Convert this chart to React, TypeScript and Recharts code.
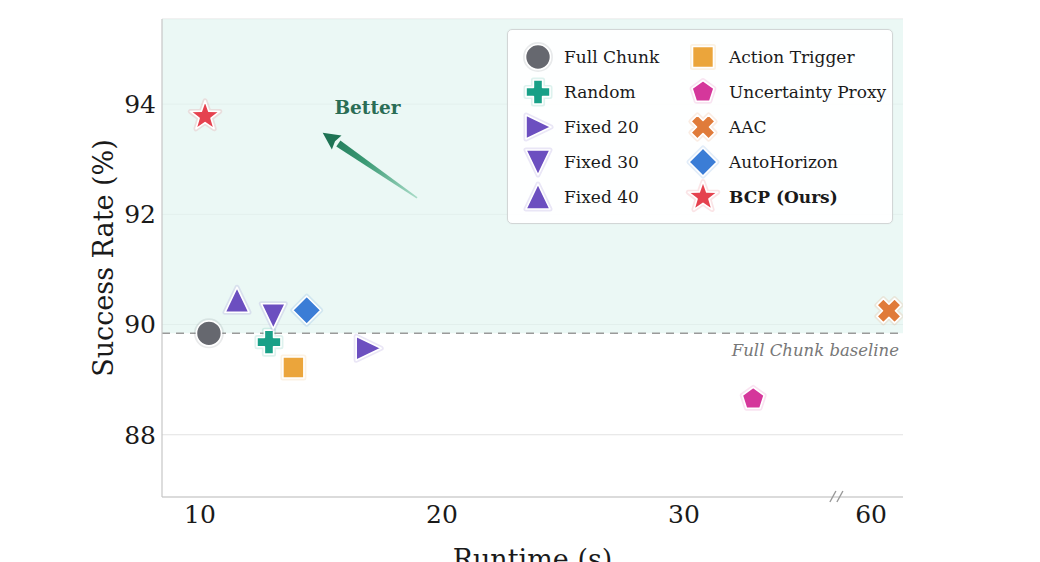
import React from "react";
import {
  ScatterChart,
  Scatter,
  XAxis,
  YAxis,
  CartesianGrid,
  ReferenceArea,
  ReferenceLine,
  ReferenceDot,
} from "recharts";

// one point per method
const methods = [
  "Full Chunk",
  "Random",
  "Fixed 20",
  "Fixed 30",
  "Fixed 40",
  "Action Trigger",
  "Uncertainty Proxy",
  "AAC",
  "AutoHorizon",
  "BCP (Ours)",
];
const runtimes = [10.37, 12.85, 16.95, 13.03, 11.53, 13.86, 32.86, 60.74, 14.41, 10.21];
const successRates = [89.84, 89.68, 89.57, 90.16, 90.44, 89.22, 88.65, 90.25, 90.26, 93.78];
const markerKinds = ["circle", "plus", "triRight", "triDown", "triUp", "square", "pentagon", "x", "diamond", "star"];
const markerColors = [
  "#66686f",
  "#18a087",
  "#6c4fc0",
  "#6c4fc0",
  "#6c4fc0",
  "#eba53b",
  "#d5379b",
  "#e07b3a",
  "#3b7dd6",
  "#e5424f",
];

const xTicks = [10, 20, 30, 60];
const yTicks = [88, 90, 92, 94];
const baselineRate = 89.84;

// broken x axis: everything past the break is pulled left
const breakFrom = 35;
const breakShift = 22.27;
const toAxis = (v: number) => (v > breakFrom ? v - breakShift : v);
const fromAxis = (v: number) => (v > breakFrom ? v + breakShift : v);

const FONT = "'DejaVu Serif', serif";

function Marker({ kind, color, cx, cy }: { kind: string; color: string; cx: number; cy: number }) {
  const common = { fill: color, stroke: "#ffffff", strokeWidth: 1.6, strokeLinejoin: "round" as const };
  const halo = { fill: "none", stroke: color, strokeOpacity: 0.14, strokeWidth: 5, strokeLinejoin: "round" as const };
  const poly = (pts: [number, number][]) => pts.map(([a, b]) => `${cx + a},${cy + b}`).join(" ");
  let pts: [number, number][] | null = null;
  if (kind === "circle") {
    return (
      <g>
        <circle cx={cx} cy={cy} r={12.5} {...halo} />
        <circle cx={cx} cy={cy} r={12.5} {...common} />
      </g>
    );
  }
  const r = 12;
  if (kind === "plus") {
    const a = 12, t = 4.6;
    pts = [[-t, -a], [t, -a], [t, -t], [a, -t], [a, t], [t, t], [t, a], [-t, a], [-t, t], [-a, t], [-a, -t], [-t, -t]];
  } else if (kind === "x") {
    const a = 12.5, t = 4.6;
    const base: [number, number][] = [[-t, -a], [t, -a], [t, -t], [a, -t], [a, t], [t, t], [t, a], [-t, a], [-t, t], [-a, t], [-a, -t], [-t, -t]];
    const c = Math.SQRT1_2;
    pts = base.map(([a1, b1]) => [a1 * c - b1 * c, a1 * c + b1 * c] as [number, number]);
  } else if (kind === "triRight") {
    pts = [[r + 1, 0], [-r, -r], [-r, r]];
  } else if (kind === "triDown") {
    pts = [[0, r + 1], [-r, -r], [r, -r]];
  } else if (kind === "triUp") {
    pts = [[0, -r - 1], [-r, r], [r, r]];
  } else if (kind === "square") {
    const h = 10.5;
    pts = [[-h, -h], [h, -h], [h, h], [-h, h]];
  } else if (kind === "diamond") {
    const h = 14;
    pts = [[0, -h], [h, 0], [0, h], [-h, 0]];
  } else if (kind === "pentagon") {
    pts = [0, 1, 2, 3, 4].map((k) => {
      const ang = (-90 + 72 * k) * (Math.PI / 180);
      return [11.5 * Math.cos(ang), 11.5 * Math.sin(ang)] as [number, number];
    });
  } else if (kind === "star") {
    pts = Array.from({ length: 10 }, (_, k) => {
      const ang = (-90 + 36 * k) * (Math.PI / 180);
      const rad = k % 2 === 0 ? 15.5 : 6.3;
      return [rad * Math.cos(ang), rad * Math.sin(ang)] as [number, number];
    });
  }
  const p = poly(pts || []);
  return (
    <g>
      <polygon points={p} {...halo} />
      <polygon points={p} {...common} />
    </g>
  );
}

function BetterArrow(props: any) {
  const { x1, y1, x2, y2 } = props;
  const dx = x2 - x1;
  const dy = y2 - y1;
  const len = Math.hypot(dx, dy) || 1;
  const ux = dx / len, uy = dy / len;
  const nx = -uy, ny = ux;
  const headLen = 19, headW = 8.5;
  const bx = x2 - ux * headLen, by = y2 - uy * headLen;
  const shaft = [
    [x1 + nx * 0.8, y1 + ny * 0.8],
    [bx + nx * 3.6, by + ny * 3.6],
    [bx - nx * 3.6, by - ny * 3.6],
    [x1 - nx * 0.8, y1 - ny * 0.8],
  ]
    .map((q) => q.join(","))
    .join(" ");
  const head = [
    [x2, y2],
    [bx + nx * headW + ux * 2, by + ny * headW + uy * 2],
    [bx + ux * 4, by + uy * 4],
    [bx - nx * headW + ux * 2, by - ny * headW + uy * 2],
  ]
    .map((q) => q.join(","))
    .join(" ");
  return (
    <g>
      <defs>
        <linearGradient id="betterGrad" gradientUnits="userSpaceOnUse" x1={x1} y1={y1} x2={x2} y2={y2}>
          <stop offset="0" stopColor="#a9dcc8" />
          <stop offset="0.55" stopColor="#3a9a74" />
          <stop offset="1" stopColor="#1e7354" />
        </linearGradient>
      </defs>
      <polygon points={shaft} fill="url(#betterGrad)" />
      <polygon points={head} fill="#1e7354" />
    </g>
  );
}

function LegendBox() {
  return (
    <div
      style={{
        position: "absolute",
        left: 507,
        top: 29,
        width: 386,
        height: 195,
        background: "rgba(255,255,255,0.92)",
        border: "1px solid #d2d6d6",
        borderRadius: 5,
        boxSizing: "border-box",
        boxShadow: "0 0 2px rgba(0,0,0,0.06)",
        fontFamily: FONT,
        fontSize: 17,
        color: "#1a1a1a",
      }}
    >
      {methods.map((m, i) => {
        const col = Math.floor(i / 5);
        const row = i % 5;
        return (
          <div
            key={m}
            style={{
              position: "absolute",
              left: 13 + col * 165,
              top: 9 + row * 35.2,
              height: 35,
              display: "flex",
              alignItems: "center",
              whiteSpace: "nowrap",
              fontWeight: m === "BCP (Ours)" ? 700 : 400,
            }}
          >
            <svg width={34} height={34} style={{ marginRight: 9, overflow: "visible" }}>
              <Marker kind={markerKinds[i]} color={markerColors[i]} cx={17} cy={17} />
            </svg>
            <span>{m}</span>
          </div>
        );
      })}
    </div>
  );
}

export default function App() {
  const yLabel = (p: any) => {
    const vb = p.viewBox || {};
    const cx = vb.x + 21;
    const cy = vb.y + vb.height / 2;
    return (
      <text
        x={cx}
        y={cy}
        transform={`rotate(-90, ${cx}, ${cy})`}
        textAnchor="middle"
        dominantBaseline="central"
        fontFamily={FONT}
        fontSize={27}
        fill="#1a1a1a"
      >
        Success Rate (%)
      </text>
    );
  };
  const xLabel = (p: any) => {
    const vb = p.viewBox || {};
    return (
      <text
        x={vb.x + vb.width / 2}
        y={vb.y + 72}
        textAnchor="middle"
        fontFamily={FONT}
        fontSize={27}
        fill="#1a1a1a"
      >
        Runtime (s)
      </text>
    );
  };
  const baselineLabel = (p: any) => {
    const vb = p.viewBox || {};
    return (
      <text
        x={vb.x + vb.width - 4}
        y={vb.y + 23}
        textAnchor="end"
        fontFamily={FONT}
        fontStyle="italic"
        fontSize={16.5}
        fill="#777777"
      >
        Full Chunk baseline
      </text>
    );
  };

  return (
    <div style={{ position: "relative", width: 1040, height: 562, background: "#ffffff", overflow: "hidden" }}>
      <style>{`body{margin:0}`}</style>
      <ScatterChart width={1040} height={562} margin={{ top: 19, right: 137, bottom: 0, left: 82 }}>
        <ReferenceArea
          x1={8.43}
          x2={39.05}
          y1={baselineRate}
          y2={95.545}
          fill="#e2f5f1"
          fillOpacity={0.7}
          stroke="none"
          ifOverflow="hidden"
        />
        <CartesianGrid vertical={false} stroke="#e2e2e2" strokeWidth={1} />
        <XAxis
          type="number"
          dataKey="x"
          domain={[8.43, 39.05]}
          ticks={xTicks.map(toAxis)}
          tickFormatter={(v: number) => String(Math.round(fromAxis(v)))}
          allowDataOverflow
          height={65}
          tickLine={false}
          tickSize={0}
          tickMargin={8}
          axisLine={{ stroke: "#c6c6c6", strokeWidth: 1.2 }}
          tick={{ fill: "#1a1a1a", fontSize: 25, fontFamily: FONT }}
          label={xLabel}
        />
        <YAxis
          type="number"
          dataKey="y"
          domain={[86.87, 95.545]}
          ticks={yTicks}
          allowDataOverflow
          width={80}
          tickLine={false}
          tickSize={0}
          tickMargin={6}
          axisLine={{ stroke: "#c6c6c6", strokeWidth: 1.2 }}
          tick={{ fill: "#1a1a1a", fontSize: 25, fontFamily: FONT }}
          label={yLabel}
        />
        <ReferenceLine
          y={baselineRate}
          stroke="#9a9a9a"
          strokeWidth={1.5}
          strokeDasharray="8 6"
          label={baselineLabel}
        />
        <ReferenceLine
          segment={[
            { x: 18.97, y: 92.3 },
            { x: 15.07, y: 93.48 },
          ]}
          shape={BetterArrow}
        />
        <ReferenceDot
          x={16.92}
          y={93.82}
          ifOverflow="visible"
          shape={(p: any) => (
            <text
              x={p.cx}
              y={p.cy}
              textAnchor="middle"
              fontFamily={FONT}
              fontWeight={700}
              fontSize={18.5}
              fill="#2a6d55"
            >
              Better
            </text>
          )}
        />
        <ReferenceDot
          x={36.36}
          y={86.87}
          ifOverflow="visible"
          shape={(p: any) => (
            <g stroke="#999999" strokeWidth={1.4}>
              <line x1={p.cx - 8} y1={p.cy + 5} x2={p.cx - 2} y2={p.cy - 6} />
              <line x1={p.cx - 1} y1={p.cy + 5} x2={p.cx + 5} y2={p.cy - 6} />
            </g>
          )}
        />
        {methods.map((m, i) => (
          <Scatter
            key={m}
            name={m}
            data={[{ x: toAxis(runtimes[i]), y: successRates[i] }]}
            isAnimationActive={false}
            shape={(p: any) => <Marker kind={markerKinds[i]} color={markerColors[i]} cx={p.cx} cy={p.cy} />}
          />
        ))}
      </ScatterChart>
      <LegendBox />
    </div>
  );
}
